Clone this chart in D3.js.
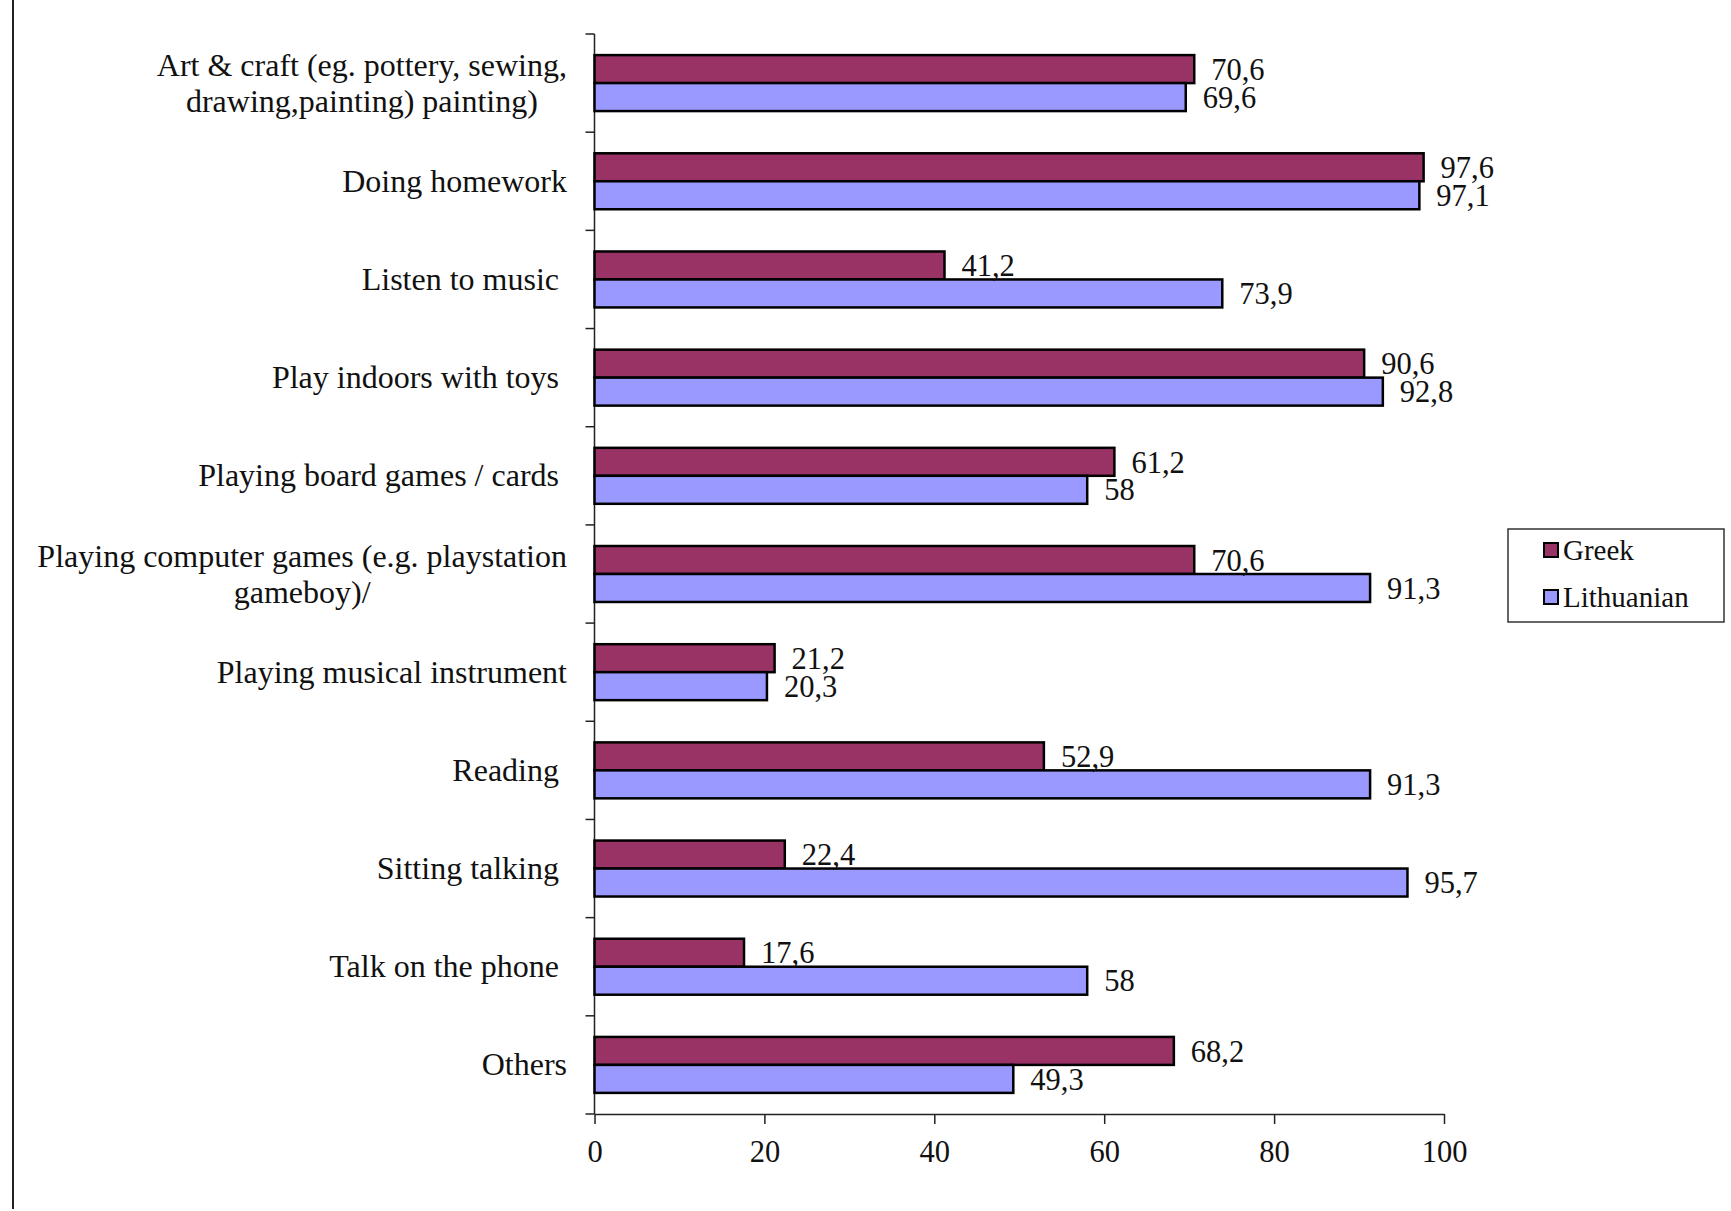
<!DOCTYPE html>
<html>
<head>
<meta charset="utf-8">
<script src="https://cdn.jsdelivr.net/npm/d3@7"></script>
<style>
  html, body { margin: 0; padding: 0; background: #fff; }
  svg { display: block; }
  text { font-family: "Liberation Serif", "Times New Roman", serif; fill: #111; white-space: pre; }
</style>
</head>
<body>
<script>
const categories = [
  ["Art & craft (eg. pottery, sewing,", "drawing,painting) painting)"],
  ["Doing homework"],
  ["Listen to music "],
  ["Play indoors with toys "],
  ["Playing board games / cards "],
  ["Playing computer games (e.g. playstation", "gameboy)/"],
  ["Playing musical instrument"],
  ["Reading "],
  ["Sitting talking "],
  ["Talk on the phone "],
  ["Others"]
];
const seriesNames = ["Greek", "Lithuanian"];
const greek =      [70.6, 97.6, 41.2, 90.6, 61.2, 70.6, 21.2, 52.9, 22.4, 17.6, 68.2];
const lithuanian = [69.6, 97.1, 73.9, 92.8, 58.0, 91.3, 20.3, 91.3, 95.7, 58.0, 49.3];
const xTicks = [0, 20, 40, 60, 80, 100];
const colors = ["#993366", "#9999FF"];

(function () {
const W = 1731, H = 1211;
const svg = d3.select("body").append("svg").attr("width", W).attr("height", H);

const pL = 594.5, pR = 1444, pT = 34, pB = 1114;
const idx = d3.range(categories.length);
const x = d3.scaleLinear().domain([0, 100]).range([pL, pR]);
const y = d3.scaleBand().domain(idx).range([pT, pB]).paddingInner(0.43).paddingOuter(0.215);
const ys = d3.scaleBand().domain(seriesNames).range([0, y.bandwidth()]);
const fmt = v => String(v).replace(".", ",");

// outer left border line
svg.append("line").attr("x1", 13).attr("x2", 13).attr("y1", 0).attr("y2", 1209)
  .attr("stroke", "#222").attr("stroke-width", 2);

// category boundary ticks (left axis)
const boundaries = idx.map(i => y(i) - y.step() * y.paddingInner() / 2).concat([pB]);
svg.append("line").attr("x1", pL).attr("x2", pL).attr("y1", pT).attr("y2", pB)
  .attr("stroke", "#222").attr("stroke-width", 1.5);
svg.selectAll("line.btick").data(boundaries).join("line").attr("class", "btick")
  .attr("x1", pL - 9).attr("x2", pL).attr("y1", d => d).attr("y2", d => d)
  .attr("stroke", "#222").attr("stroke-width", 1.5);

// bottom axis
const xAxis = svg.append("g").attr("transform", `translate(0,${pB})`)
  .call(d3.axisBottom(x).tickValues(xTicks).tickSize(10).tickSizeOuter(0).tickPadding(16));
xAxis.select(".domain").attr("stroke", "#222").attr("stroke-width", 1.5);
xAxis.selectAll(".tick line").attr("stroke", "#222").attr("stroke-width", 1.5);
xAxis.selectAll(".tick text").style("font-size", "30.5px").style("font-family", "Liberation Serif").attr("fill", "#111");

// bars
const rows = idx.map(i => [
  { i, s: seriesNames[0], v: greek[i], c: colors[0] },
  { i, s: seriesNames[1], v: lithuanian[i], c: colors[1] }
]).flat();

svg.selectAll("rect.bar").data(rows).join("rect").attr("class", "bar")
  .attr("x", x(0)).attr("y", d => y(d.i) + ys(d.s))
  .attr("width", d => x(d.v) - x(0)).attr("height", ys.bandwidth())
  .attr("fill", d => d.c).attr("stroke", "#000").attr("stroke-width", 2.5);

svg.selectAll("text.val").data(rows).join("text").attr("class", "val")
  .attr("x", d => x(d.v) + 17).attr("y", d => y(d.i) + ys(d.s) + ys.bandwidth() / 2)
  .attr("dy", "0.35em").style("font-size", "30.5px").text(d => fmt(d.v));

// category labels
const labelRight = 567;
categories.forEach((lines, i) => {
  const cy = y(i) + y.bandwidth() / 2;
  const g = svg.append("g");
  const lh = 36;
  const t = g.selectAll("text").data(lines).join("text")
    .attr("y", (d, k) => cy + (k - (lines.length - 1) / 2) * lh)
    .attr("dy", "0.33em").style("font-size", "32px").text(d => d);
  const widths = t.nodes().map(n => n.getComputedTextLength());
  const maxW = d3.max(widths);
  t.attr("text-anchor", "middle").attr("x", labelRight - maxW / 2);
});

// legend
const lg = svg.append("g");
lg.append("rect").attr("x", 1508).attr("y", 529).attr("width", 216).attr("height", 93)
  .attr("fill", "#fff").attr("stroke", "#333").attr("stroke-width", 1.5);
seriesNames.forEach((s, k) => {
  const yy = 550 + k * 47;
  lg.append("rect").attr("x", 1544).attr("y", yy - 7).attr("width", 14).attr("height", 14)
    .attr("fill", colors[k]).attr("stroke", "#000").attr("stroke-width", 2);
  lg.append("text").attr("x", 1563).attr("y", yy).attr("dy", "0.35em")
    .style("font-size", "29px").text(s);
});
})();
</script>
</body>
</html>
